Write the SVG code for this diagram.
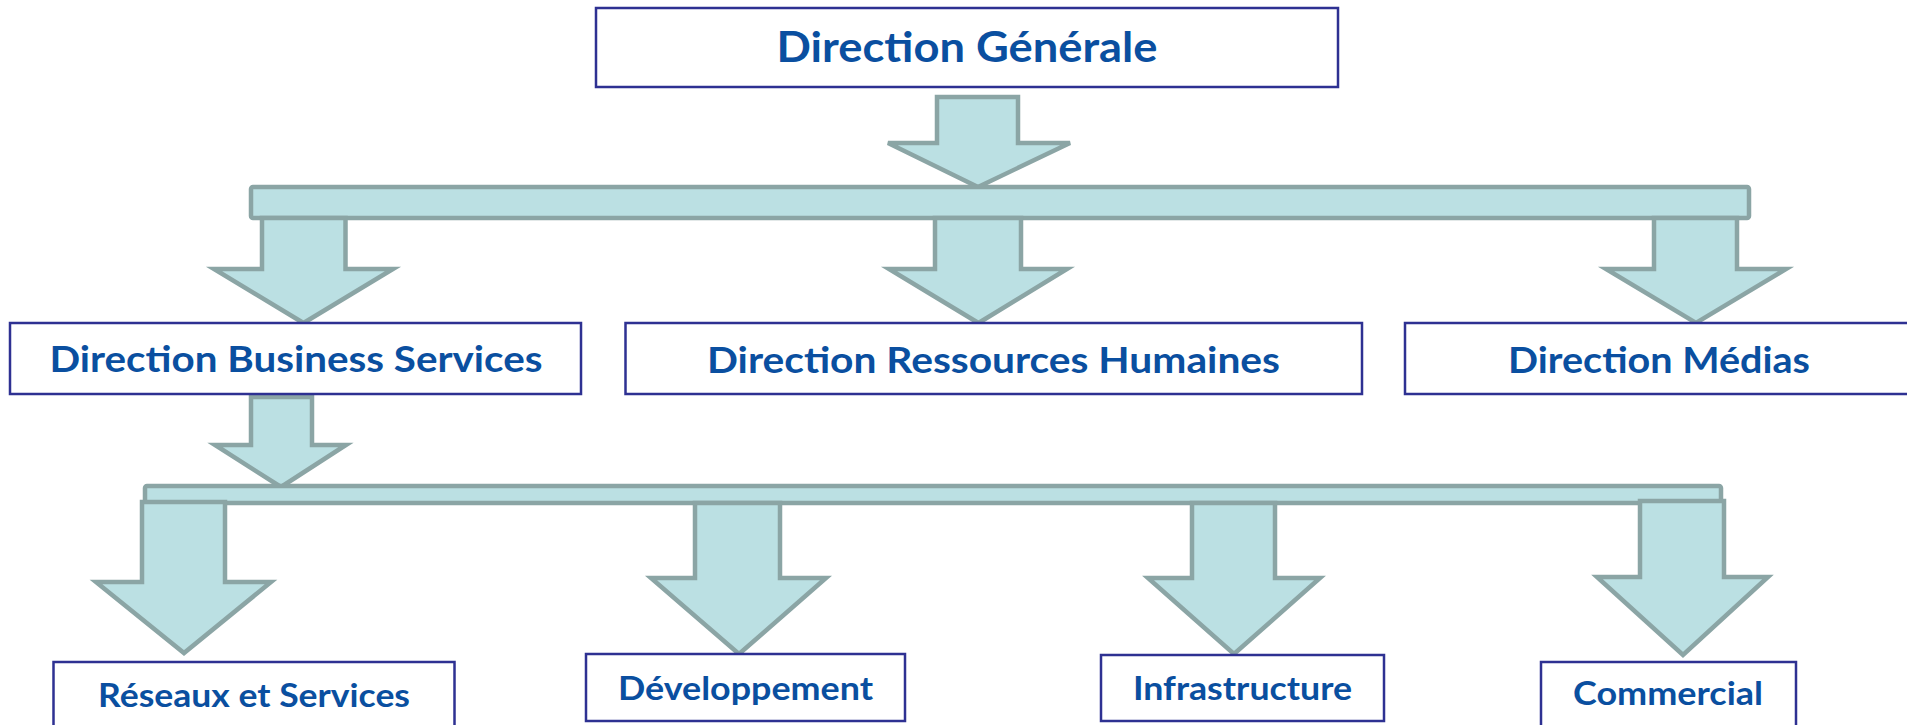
<svg xmlns="http://www.w3.org/2000/svg" width="1907" height="725" viewBox="0 0 1907 725">
<style>
.box{fill:#ffffff;stroke:#2E3192;stroke-width:2.5}
.lbl{font-family:Lato,"Open Sans","Liberation Sans",sans-serif;font-weight:700;fill:#0A4FA0;text-anchor:middle}
.l1{font-size:42px}
.l2{font-size:37px}
.l3{font-size:33px}
.arr{fill:#BBE0E3;stroke:#8BA5A5;stroke-width:4.5;stroke-linejoin:miter}
</style>
<rect width="1907" height="725" fill="#ffffff"/>
<g id="connectors">
<polygon class="arr" points="937,97 1018,97 1018,143 1070,143 978,187 888,143 937,143"/>
<rect class="arr" x="251" y="187" width="1498" height="31" rx="2"/>
<polygon class="arr" points="262,218 345.5,218 345.5,269 393,269 303.5,323 214,269 262,269"/>
<polygon class="arr" points="935,218 1021,218 1021,269 1067,269 978.5,323 889,269 935,269"/>
<polygon class="arr" points="1654,218 1737,218 1737,269 1786,269 1696,323 1606,269 1654,269"/>
<polygon class="arr" points="251,397 312,397 312,445 346,445 281,487 215,445 251,445"/>
<rect class="arr" x="145" y="486" width="1576" height="17" rx="2"/>
<polygon class="arr" points="142,502 225,502 225,582 271,582 184,653 96,582 142,582"/>
<polygon class="arr" points="695,503 780,503 780,578 826,578 739,654 651,578 695,578"/>
<polygon class="arr" points="1192,503 1275,503 1275,578 1320,578 1234,654 1148,578 1192,578"/>
<polygon class="arr" points="1640,501 1724,501 1724,577 1768,577 1683,655 1597,577 1640,577"/>
</g>
<g id="node-dg">
<rect class="box" x="596" y="8" width="742" height="79"/>
<text class="lbl l1" x="967" y="62" textLength="381" lengthAdjust="spacingAndGlyphs">Direction Générale</text>
</g>
<g id="node-dbs">
<rect class="box" x="10" y="323" width="571" height="71"/>
<text class="lbl l2" x="296" y="372" textLength="493" lengthAdjust="spacingAndGlyphs">Direction Business Services</text>
</g>
<g id="node-drh">
<rect class="box" x="625.5" y="323" width="736.5" height="71"/>
<text class="lbl l2" x="993.5" y="372.5" textLength="573" lengthAdjust="spacingAndGlyphs">Direction Ressources Humaines</text>
</g>
<g id="node-dm">
<rect class="box" x="1405" y="323" width="508" height="71"/>
<text class="lbl l2" x="1659" y="372.5" textLength="302" lengthAdjust="spacingAndGlyphs">Direction Médias</text>
</g>
<g id="node-rs">
<rect class="box" x="53.5" y="662" width="401" height="70"/>
<text class="lbl l3" x="254" y="706.5" textLength="312" lengthAdjust="spacingAndGlyphs">Réseaux et Services</text>
</g>
<g id="node-dev">
<rect class="box" x="586" y="654" width="319" height="67"/>
<text class="lbl l3" x="745.5" y="700" textLength="255" lengthAdjust="spacingAndGlyphs">Développement</text>
</g>
<g id="node-infra">
<rect class="box" x="1101" y="655" width="283" height="66"/>
<text class="lbl l3" x="1242.5" y="700" textLength="219" lengthAdjust="spacingAndGlyphs">Infrastructure</text>
</g>
<g id="node-com">
<rect class="box" x="1541" y="662" width="255" height="70"/>
<text class="lbl l3" x="1668" y="705" textLength="190" lengthAdjust="spacingAndGlyphs">Commercial</text>
</g>
</svg>
